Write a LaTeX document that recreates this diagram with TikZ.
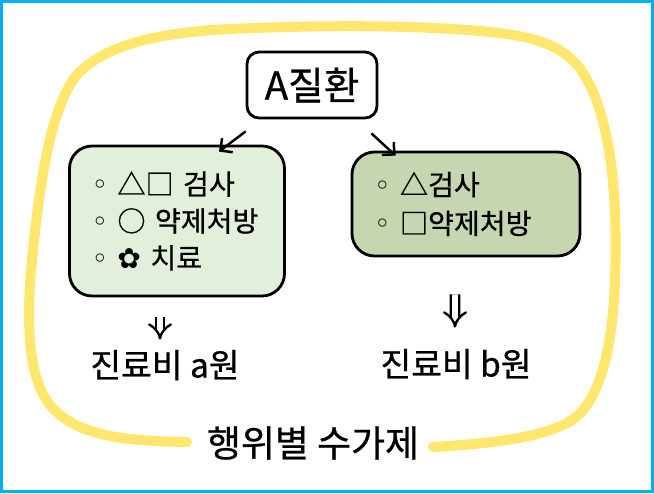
\documentclass[tikz,border=0pt]{standalone}
\usepackage{fontspec}
\setmainfont{Noto Sans CJK KR}[FakeBold=0.7]
\newfontfamily\symfont{DejaVu Sans}
\usetikzlibrary{arrows.meta}

\definecolor{frameblue}{HTML}{00B0F0}
\definecolor{loopyellow}{HTML}{FFE76E}
\definecolor{lightgreen}{HTML}{E2EFDA}
\definecolor{darkgreen}{HTML}{C5D6B0}

\newcommand{\bul}{{\symfont ◦}\ }

\begin{document}
\begin{tikzpicture}[
    card/.style = {draw, line width=1.6pt, rounded corners=0.45cm, inner xsep=0.44cm, inner ysep=0pt, align=left, font=\fontsize{16}{21}\selectfont},
    pointer/.style = {line width=1.4pt, -{Straight Barb[length=5pt,width=10pt]}},
    imply/.style = {double, line width=1.35pt, double distance=3.3pt, -{Implies[scale=1.4]}},
    cost/.style = {inner sep=0pt, font=\fontsize{19}{22}\selectfont}
]
    \useasboundingbox (0,0) rectangle (13.08,-9.86);
    \draw [line width=1.9pt, frameblue] (0.033,-0.033) rectangle (13.047,-9.827);

    % yellow loop around everything
    \draw [line width=5.7pt, loopyellow, line cap=round] (8.66,-8.94)
        .. controls (10.0,-8.86) and (11.0,-8.72) .. (11.5,-8.36)
        .. controls (12.0,-7.95) and (12.25,-7.0) .. (12.3,-5.6)
        .. controls (12.36,-3.8) and (12.2,-2.3) .. (11.66,-1.46)
        .. controls (11.3,-0.9) and (10.7,-0.72) .. (9.6,-0.62)
        .. controls (8.2,-0.5) and (6.4,-0.5) .. (4.6,-0.58)
        .. controls (2.9,-0.66) and (1.9,-1.0) .. (1.46,-1.6)
        .. controls (1.0,-2.3) and (0.8,-3.6) .. (0.64,-5.2)
        .. controls (0.5,-6.6) and (0.6,-7.6) .. (1.0,-8.1)
        .. controls (1.5,-8.7) and (2.4,-8.82) .. (3.74,-8.84);

    \node [draw, line width=1.6pt, rounded corners=0.24cm, fill=white, minimum width=2.6cm, minimum height=1.32cm, font=\fontsize{22}{26}\selectfont] (disease) at (6.24,-1.70) {A질환};

    \node [card, fill=lightgreen, text width=3.42cm, minimum height=3cm] (boxL) at (3.54,-4.42) {\bul △□ 검사\\ \bul ○ 약제처방\\ \bul {\symfont ✿} 치료};
    \node [card, fill=darkgreen, text width=3.68cm, minimum height=2.08cm, font=\fontsize{16}{22}\selectfont] (boxR) at (9.32,-4.08) {\bul △검사\\ \bul □약제처방};

    \node [cost] (costL) at (3.30,-7.30) {진료비 a원};
    \node [cost] (costR) at (9.12,-7.28) {진료비 b원};

    \node [inner sep=0pt, font=\fontsize{21}{24}\selectfont] (payment) at (6.26,-8.86) {행위별 수가제};

    \draw [pointer] ([yshift=-0.24cm]disease.south west) to ([xshift=0.84cm,yshift=-0.14cm]boxL.north);
    \draw [pointer] ([xshift=-0.14cm,yshift=-0.28cm]disease.south east) to ([xshift=0.9cm,yshift=-0.1cm]boxR.north west);

    \draw [imply] ([xshift=-0.34cm,yshift=-0.4cm]boxL.south) to ([xshift=-0.1cm,yshift=0.2cm]costL.north);
    \draw [imply] ([xshift=-0.22cm,yshift=-0.74cm]boxR.south) to ([xshift=-0.02cm,yshift=0.42cm]costR.north);
\end{tikzpicture}
\end{document}
